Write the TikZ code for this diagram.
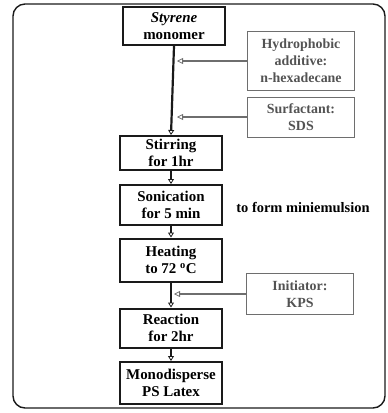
\documentclass[tikz,border=0pt]{standalone}
\usepackage{fontspec}
\setmainfont{Liberation Serif}
\usepackage{xcolor}
\usepackage{tikz}
\usetikzlibrary{positioning, arrows.meta, calc}
\definecolor{Flow_Black}{HTML}{1A1A1A}
\definecolor{Flow_Gray}{HTML}{6E6E6E}

\begin{document}
\begin{tikzpicture}[x=1bp, y=-1bp,
    every node/.style={font=\fontsize{15}{17.5}\selectfont\bfseries, align=center, inner sep=1pt},
    stepbox/.style={draw=Flow_Black, line width=2pt, minimum width=102bp},
    addbox/.style={draw=Flow_Gray, line width=0.8pt, text=Flow_Gray!75!black,
                   font=\fontsize{14}{17}\selectfont\bfseries, minimum width=107bp}]
  \useasboundingbox (0,0) rectangle (388,413);
  % Outer frame
  \draw[Flow_Black, line width=1.4pt, rounded corners=12bp] (13,4) rectangle (385,408);
  % Process steps
  \node[stepbox, minimum height=38bp] (styrene) at (174,26) {\textit{Styrene}\\monomer};
  \node[stepbox, minimum height=34bp] (stir) at (171,153) {Stirring\\for 1hr};
  \node[stepbox, minimum height=40bp] (sonic) at (171,205) {Sonication\\for 5 min};
  \node[stepbox, minimum height=43bp] (heat) at (171,260) {Heating\\to 72 $^{\mathbf{o}}$C};
  \node[stepbox, minimum height=39bp] (react) at (171,328) {Reaction\\for 2hr};
  \node[stepbox, minimum height=42bp] (latex) at (171,383) {Monodisperse\\PS Latex};
  % Additives
  \node[addbox, minimum height=59bp] (hydro) at (301,61) {Hydrophobic\\additive:\\n-hexadecane};
  \node[addbox, minimum height=40bp] (surf) at (301,117) {Surfactant:\\SDS};
  \node[addbox, minimum height=41bp] (init) at (300,294) {Initiator:\\KPS};
  % Note
  \node[font=\fontsize{14.5}{17}\selectfont\bfseries] (note) at (303,207) {to form miniemulsion};
  % Main flow
  \foreach \a/\b in {styrene/stir, stir/sonic, sonic/heat, heat/react, react/latex}
    \draw[Flow_Black, line width=2.2pt, -{Triangle[open, length=5bp, width=6bp, line width=0.8pt]}]
      (\a.south) -- (\b.north);
  % Additive arrows
  \foreach \s/\t in {hydro/styrene, surf/styrene, init/heat}
    \draw[Flow_Gray, line width=1.6pt, shorten >=3bp,
          -{Triangle[open, length=6bp, width=6bp, line width=0.8pt]}]
      (\s.west) -- (\s.west -| \t.south);
\end{tikzpicture}
\end{document}
